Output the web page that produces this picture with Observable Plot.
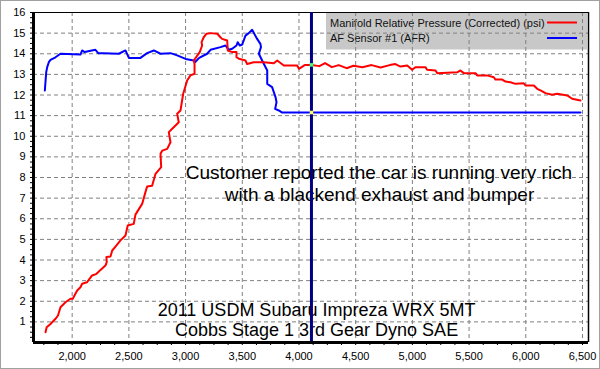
<!DOCTYPE html>
<html>
<head>
<meta charset="utf-8">
<script src="https://cdn.jsdelivr.net/npm/d3@7"></script>
<script src="https://cdn.jsdelivr.net/npm/@observablehq/plot@0.6"></script>
<style>
  html, body { margin: 0; padding: 0; background: #fff; }
  #chart { width: 600px; height: 369px; }
</style>
</head>
<body>
<div id="chart"></div>
<script>
// ---- Data ----
const boostRpm = [1765,1775,1809,1853,1875,1897,1941,1985,2005,2044,2073,2088,2130,2176,2215,2250,2293,2305,2302,2338,2353,2382,2426,2470,2490,2543,2558,2617,2646,2661,2705,2735,2785,2779,2794,2838,2867,2852,2882,2940,2926,2955,2979,3014,3043,3079,3079,3072,3125,3146,3141,3160,3185,3220,3280,3307,3322,3367,3372,3411,3449,3449,3470,3528,3543,3601,3690,3778,3808,3866,3984,4000,4050,4110,4180,4230,4290,4350,4420,4480,4560,4640,4720,4800,4850,4895,4954,4998,5027,5115,5130,5204,5219,5395,5424,5453,5557,5571,5660,5718,5733,5792,5821,5865,5909,5982,5997,6071,6101,6130,6174,6233,6277,6365,6409,6482];
const boostPsi = [0.5,0.74,0.9,1.15,1.31,1.71,1.95,2.12,2.12,2.52,2.68,2.85,2.92,3.25,3.33,3.52,3.73,3.9,4.14,4.17,4.46,4.65,4.95,5.19,5.67,5.75,6.2,6.72,7.29,7.56,7.6,8.18,8.5,9.15,9.3,9.39,9.71,10.2,10.36,10.68,11.09,11.25,12.06,12.7,12.95,13.03,13.5,13.67,14.08,14.4,14.56,14.8,14.97,15.0,14.97,14.8,14.72,14.64,14.16,14.08,14.08,13.83,13.76,13.67,13.5,13.59,13.59,13.54,13.67,13.43,13.43,13.27,13.45,13.46,13.4,13.55,13.35,13.45,13.3,13.42,13.35,13.45,13.33,13.45,13.5,13.38,13.43,13.22,13.35,13.35,13.22,13.19,13.06,13.1,13.19,13.06,13.06,12.95,12.95,12.86,12.75,12.75,12.65,12.62,12.54,12.57,12.46,12.46,12.3,12.22,12.09,12.01,12.06,11.98,11.82,11.73];

const afrRpm = [1759,1771,1780,1794,1809,1853,1897,2073,2088,2110,2205,2230,2279,2411,2470,2500,2602,2661,2720,2779,2867,2926,3000,3072,3085,3120,3190,3220,3308,3352,3381,3411,3449,3460,3478,3500,3528,3557,3587,3631,3660,3665,3646,3675,3720,3720,3763,3793,3802,3790,3822,3852,4000,5000,6482];
const afrVal = [12.22,13.1,13.35,13.59,13.7,13.83,14.0,13.96,14.16,14.08,14.19,14.03,14.03,14.0,14.16,13.8,13.8,14.03,14.16,14.0,14.03,13.92,13.75,13.67,13.6,13.8,14.0,14.19,14.32,14.4,14.19,14.24,14.4,14.56,14.4,14.45,14.88,15.0,15.16,14.72,14.48,14.32,14.0,13.67,13.19,12.54,12.38,11.9,11.65,11.33,11.25,11.15,11.15,11.15,11.15];

const cursorRpm = 4110;
const cursorBoost = 13.46;
const cursorAfr = 11.15;

const seriesNames = ["Manifold Relative Pressure (Corrected) (psi)", "AF Sensor #1 (AFR)"];
const seriesColors = ["#ff0000", "#0000ff"];

const xMajorTicks = d3.range(2000, 6501, 500);
const xMinorTicks = d3.range(1750, 6501, 125);
const yMajorTicks = d3.range(1, 16);
const yMinorTicks = d3.range(1, 65).map(i => i * 0.25);

const noteLines = ["Customer reported the car is running very rich", "with a blackend exhaust and bumper"];
const titleLines = ["2011 USDM Subaru Impreza WRX 5MT", "Cobbs Stage 1 3rd Gear Dyno SAE"];

// ---- Tables ----
const boost = boostRpm.map((r, i) => ({rpm: r, v: boostPsi[i]}));
const afr = afrRpm.map((r, i) => ({rpm: r, v: afrVal[i]}));
const notes = [
  {rpm: 4705, v: 8.24, text: noteLines[0]},
  {rpm: 4710, v: 7.18, text: noteLines[1]}
];
const titles = [
  {rpm: 4155, v: 1.58, text: titleLines[0]},
  {rpm: 4155, v: 0.61, text: titleLines[1]}
];

const xDomain = [1659, 6553];
const yDomain = [0, 16];

const svg = Plot.plot({
  width: 600,
  height: 369,
  marginLeft: 33,
  marginRight: 12,
  marginTop: 12,
  marginBottom: 27,
  style: {fontFamily: "'Liberation Sans', Arial, sans-serif", fontSize: "11px", color: "#000", background: "#fff"},
  x: {domain: xDomain, ticks: xMinorTicks, tickSize: 3, tickPadding: 7,
      tickFormat: d => d % 500 === 0 ? d3.format(",")(d) : "", label: null},
  y: {domain: yDomain, ticks: yMinorTicks, tickSize: 3, tickPadding: 5,
      tickFormat: d => Number.isInteger(d) ? String(d) : "", label: null},
  marks: [
    Plot.ruleX(xMajorTicks, {stroke: "#808080", strokeWidth: 1, strokeDasharray: "4,3", ariaLabel: "gridx"}),
    Plot.ruleY(yMajorTicks, {stroke: "#808080", strokeWidth: 1, strokeDasharray: "4,3", ariaLabel: "gridy"}),
    Plot.ruleY([yDomain[1]], {stroke: "#000", strokeWidth: 1}),
    Plot.ruleX([xDomain[1]], {stroke: "#000", strokeWidth: 1.5}),
    Plot.text(notes, {x: "rpm", y: "v", text: "text", fontSize: 19, fill: "#000", ariaLabel: "note"}),
    Plot.text(titles, {x: "rpm", y: "v", text: "text", fontSize: 18, fill: "#000", ariaLabel: "title"}),
    Plot.line(afr, {x: "rpm", y: "v", stroke: seriesColors[1], strokeWidth: 2, curve: "linear"}),
    Plot.line(boost, {x: "rpm", y: "v", stroke: seriesColors[0], strokeWidth: 2, curve: "linear"}),
    Plot.ruleX([cursorRpm], {stroke: "#000080", strokeWidth: 3}),
    Plot.dot([{rpm: cursorRpm, v: cursorBoost}], {x: "rpm", y: "v", symbol: "square", r: 2, fill: "#40ff80", stroke: "none"}),
    Plot.dot([{rpm: cursorRpm, v: cursorAfr}], {x: "rpm", y: "v", symbol: "square", r: 2, fill: "#ffff60", stroke: "none"}),
    Plot.ruleX([xDomain[0]], {stroke: "#000", strokeWidth: 3}),
    Plot.ruleY([yDomain[0]], {stroke: "#000", strokeWidth: 3})
  ]
});

const sel = d3.select(svg);
// legend, drawn beneath the grid
const lg = sel.insert("g", ":scope > g").attr("aria-label", "legend");
lg.append("rect").attr("x", 326).attr("y", 12.5).attr("width", 261).attr("height", 37).attr("fill", "#c8c8c8");
seriesNames.forEach((name, i) => {
  const yy = 22.5 + i * 15.5;
  lg.append("text").attr("x", 330).attr("y", yy + 4).attr("font-size", 11)
    .attr("text-anchor", "start").attr("fill", "#111").text(name);
  lg.append("line").attr("x1", 547).attr("x2", 577).attr("y1", yy).attr("y2", yy)
    .attr("stroke", seriesColors[i]).attr("stroke-width", 2);
});
sel.selectAll('g[aria-label="note"] text').style("letter-spacing", "0.25px");
sel.selectAll('g[aria-label="title"] text').style("text-decoration", "underline").style("letter-spacing", "0.4px");
// outer frame
sel.append("rect").attr("x", 0.5).attr("y", 0.5).attr("width", 599).attr("height", 368)
  .attr("fill", "none").attr("stroke", "#a0a0a0");

document.getElementById("chart").appendChild(svg);
</script>
</body>
</html>
